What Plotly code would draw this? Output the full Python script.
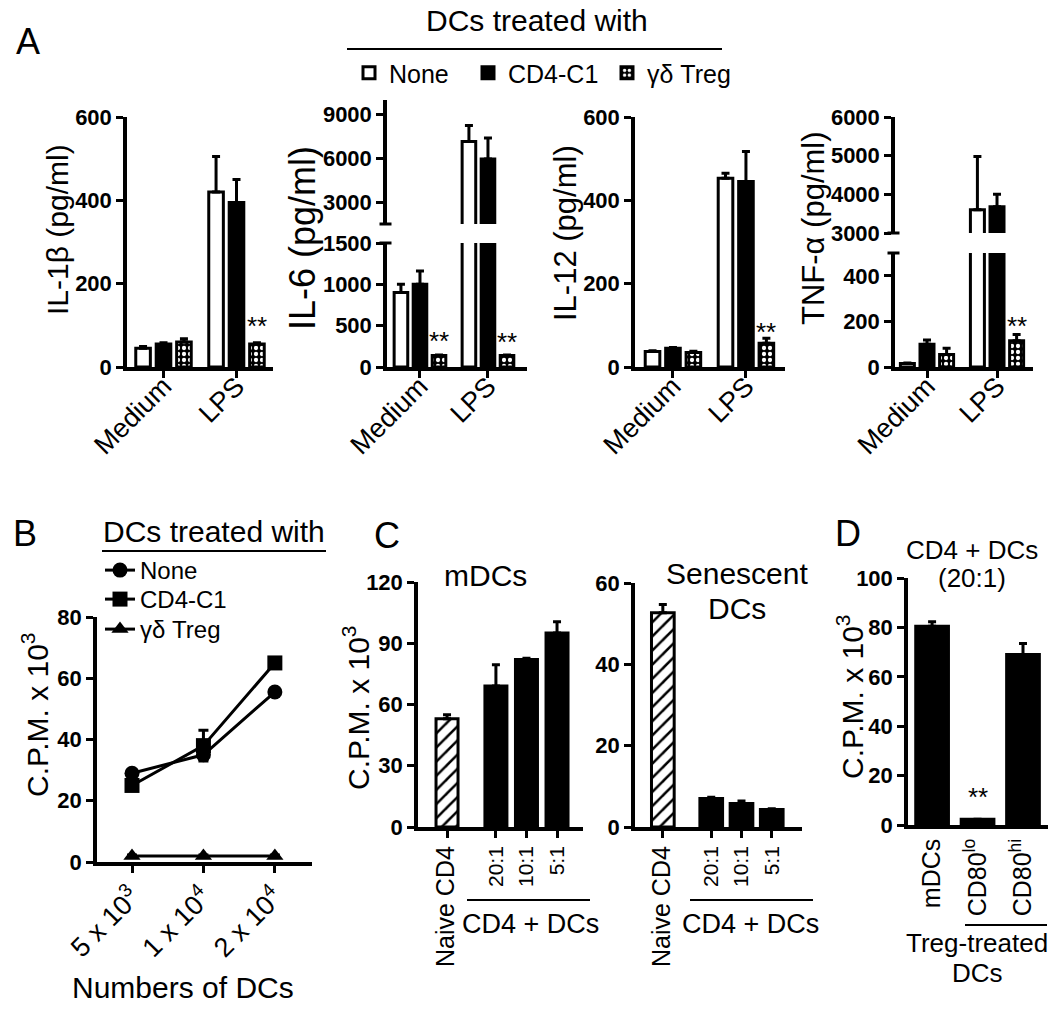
import plotly.graph_objects as go

# ---------------- data ----------------
cats_A = ['Medium', 'LPS']
treat_names = ['None', 'CD4-C1', 'γδ Treg']

il1b_none = [45, 420]
il1b_cd4 = [55, 395]
il1b_treg = [60, 55]
il1b_none_err = [4, 85]
il1b_cd4_err = [3, 55]
il1b_treg_err = [8, 3]

il6_none = [900, 7150]
il6_cd4 = [1000, 5950]
il6_treg = [140, 140]
il6_none_err = [100, 1100]
il6_cd4_err = [160, 1450]
il6_treg_err = [5, 5]

il12_none = [37, 453]
il12_cd4 = [45, 445]
il12_treg = [35, 57]
il12_none_err = [2, 12]
il12_cd4_err = [2, 72]
il12_treg_err = [3, 12]

tnf_none = [15, 3600]
tnf_cd4 = [100, 3680]
tnf_treg = [55, 115]
tnf_none_err = [3, 1380]
tnf_cd4_err = [18, 320]
tnf_treg_err = [27, 28]

b_x = ['5 x 10<sup>3</sup>', '1 x 10<sup>4</sup>', '2 x 10<sup>4</sup>']
b_none = [29, 35, 55.5]
b_cd4 = [25, 38, 65]
b_treg = [2, 2, 2]
b_none_err = [1, 1.5, 1]
b_cd4_err = [1, 5, 1]
b_treg_err = [0.3, 0.3, 0.3]

c_labels = ['Naive CD4', '20:1', '10:1', '5:1']
c_mdc = [53, 69, 82, 95]
c_mdc_err = [2, 10.5, 0.7, 5.5]
c_sen = [52.7, 7, 5.8, 4.3]
c_sen_err = [2, 0.3, 0.6, 0.2]

d_labels = ['mDCs', 'CD80<sup>lo</sup>', 'CD80<sup>hi</sup>']
d_vals = [80.5, 2.3, 69]
d_err = [1.8, 0, 4.5]

# ---------------- layout helpers ----------------
W, H = 1050, 1010
def fx(p): return p / W
def fy(p): return 1 - p / H

BLACK = 'black'
F = 'Liberation Sans, Arial, Helvetica, sans-serif'
FN = 'Liberation Sans Narrow, Arial Narrow, Liberation Sans, Arial, sans-serif'
tick_y_font = dict(family=FN, size=22, color=BLACK, weight='bold')

fig = go.Figure()

def axname(n, letter):
    return letter if n == 1 else f'{letter}{n}'

def add_axes(n, xdom, ydom, xr, yr, ytickvals, xopts=None, yopts=None):
    xa = dict(domain=[fx(xdom[0]), fx(xdom[1])], range=xr, anchor=axname(n, 'y'),
              showline=True, linewidth=3.5, linecolor=BLACK, ticks='outside', ticklen=7,
              tickwidth=3, tickcolor=BLACK, showgrid=False, zeroline=False, fixedrange=True,
              automargin=False)
    ya = dict(domain=[fy(ydom[1]), fy(ydom[0])], range=yr, anchor=axname(n, 'x'),
              showline=True, linewidth=3.5, linecolor=BLACK, ticks='outside', ticklen=7,
              tickwidth=3, tickcolor=BLACK, showgrid=False, zeroline=False,
              tickvals=ytickvals, tickfont=tick_y_font, fixedrange=True, automargin=False)
    if xopts:
        xa.update(xopts)
    if yopts:
        ya.update(yopts)
    key = '' if n == 1 else str(n)
    fig.update_layout(**{f'xaxis{key}': xa, f'yaxis{key}': ya})

xcatA = dict(type='category', categoryorder='array', categoryarray=cats_A, tickangle=-45,
             tickfont=dict(family=F, size=27, color=BLACK), ticklabelstandoff=-18)
hidden_x = dict(visible=False)

# Panel A axes
add_axes(1, (127, 273), (117, 367), [-0.5, 1.5], [0, 600], [0, 200, 400, 600], xcatA)
add_axes(2, (387, 527), (243, 367), [-0.485, 1.574], [0, 1500], [0, 500, 1000, 1500], xcatA)
add_axes(3, (387, 527), (100, 224), [-0.485, 1.574], [1500, 10000], [3000, 6000, 9000],
         dict(hidden_x, type='category', categoryorder='array', categoryarray=cats_A))
add_axes(4, (635, 785), (117, 367), [-0.52, 1.535], [0, 600], [0, 200, 400, 600], xcatA)
add_axes(5, (895, 1033), (253, 367), [-0.457, 1.514], [0, 500], [0, 200, 400], xcatA)
add_axes(6, (895, 1033), (117, 233), [-0.457, 1.514], [3000, 6000], [3000, 4000, 5000, 6000],
         dict(hidden_x, type='category', categoryorder='array', categoryarray=cats_A))

# Panel B axes
add_axes(7, (97, 312), (617, 862), [-0.49, 2.52], [0, 80], [0, 20, 40, 60, 80],
         dict(type='category', categoryorder='array', categoryarray=b_x, tickangle=-45,
              tickfont=dict(family=F, size=27, color=BLACK), ticklabelstandoff=-2))

# Panel C axes (numeric positions leave a gap after the naive CD4 bar)
c_pos = [0, 1.6, 2.6, 3.6]
c_ticktext = ['<span style="font-size:25px">' + c_labels[0] + '</span>'] + c_labels[1:]
xC = dict(tickvals=c_pos, ticktext=c_ticktext, tickangle=-90,
          tickfont=dict(family=F, size=21, color=BLACK))
add_axes(8, (418, 583), (582, 827), [-0.95, 4.45], [0, 120], [0, 30, 60, 90, 120], xC)
add_axes(9, (635, 802), (583, 827), [-0.92, 4.6], [0, 60], [0, 20, 40, 60], xC)

# Panel D axes
add_axes(10, (908, 1048), (578, 825), [-0.53, 2.55], [0, 100], [0, 20, 40, 60, 80, 100],
         dict(type='category', categoryorder='array', categoryarray=d_labels, tickangle=-90,
              ticks='', tickfont=dict(family=F, size=25, color=BLACK)))

# ---------------- traces ----------------
bar_styles = [
    dict(color='white', line=dict(color=BLACK, width=3)),
    dict(color=BLACK, line=dict(color=BLACK, width=3)),
    dict(color=BLACK, line=dict(color=BLACK, width=3),
         pattern=dict(shape='.', fgcolor='white', bgcolor=BLACK, size=6, solidity=0.4)),
]
offsets = [-0.38, -0.1, 0.18]
BW = 0.2
legA = ['legend', 'legend5', 'legend6']
legB = ['legend2', 'legend3', 'legend4']

def err(arr, w=4):
    return dict(type='data', array=arr, arrayminus=[0] * len(arr), symmetric=False,
                color=BLACK, thickness=3, width=w)

def add_A(n, series, errs, show_legend=False):
    for i, (vals, e) in enumerate(zip(series, errs)):
        fig.add_trace(go.Bar(x=cats_A, y=vals, name=treat_names[i],
                             xaxis=axname(n, 'x'), yaxis=axname(n, 'y'),
                             offset=offsets[i], width=BW, marker=bar_styles[i],
                             error_y=err(e), showlegend=show_legend, legend=legA[i],
                             hoverinfo='skip'))

add_A(1, [il1b_none, il1b_cd4, il1b_treg], [il1b_none_err, il1b_cd4_err, il1b_treg_err], True)
for n in (2, 3):
    add_A(n, [il6_none, il6_cd4, il6_treg], [il6_none_err, il6_cd4_err, il6_treg_err])
add_A(4, [il12_none, il12_cd4, il12_treg], [il12_none_err, il12_cd4_err, il12_treg_err])
for n in (5, 6):
    add_A(n, [tnf_none, tnf_cd4, tnf_treg], [tnf_none_err, tnf_cd4_err, tnf_treg_err])

# Panel B
for i, (vals, e, sym) in enumerate(zip([b_none, b_cd4, b_treg],
                                       [b_none_err, b_cd4_err, b_treg_err],
                                       ['circle', 'square', 'triangle-up'])):
    fig.add_trace(go.Scatter(x=b_x, y=vals, mode='lines+markers', name=treat_names[i],
                             line=dict(color=BLACK, width=3),
                             marker=dict(symbol=sym, size=15, color=BLACK),
                             error_y=dict(type='data', array=e, color=BLACK, thickness=3, width=5),
                             xaxis='x7', yaxis='y7', legend=legB[i], hoverinfo='skip'))

# Panel C
hatch = dict(color='white', line=dict(color=BLACK, width=3),
             pattern=dict(shape='/', fgcolor=BLACK, bgcolor='white', size=10, solidity=0.25))
solid = dict(color=BLACK, line=dict(color=BLACK, width=3))
for n, vals, e, w in ((8, c_mdc, c_mdc_err, 0.72), (9, c_sen, c_sen_err, 0.75)):
    fig.add_trace(go.Bar(x=c_pos[:1], y=vals[:1], width=w, marker=hatch, error_y=err(e[:1]),
                         xaxis=f'x{n}', yaxis=f'y{n}', showlegend=False, hoverinfo='skip'))
    fig.add_trace(go.Bar(x=c_pos[1:], y=vals[1:], width=w, marker=solid, error_y=err(e[1:]),
                         xaxis=f'x{n}', yaxis=f'y{n}', showlegend=False, hoverinfo='skip'))

# Panel D
fig.add_trace(go.Bar(x=d_labels, y=d_vals, width=0.72, marker=solid, error_y=err(d_err),
                     xaxis='x10', yaxis='y10', showlegend=False, hoverinfo='skip'))

# ---------------- annotations ----------------
ann = []
def text(t, x, y, size, angle=0, **kw):
    d = dict(text=t, x=fx(x), y=fy(y), xref='paper', yref='paper', showarrow=False,
             textangle=angle, font=dict(family=F, size=size, color=BLACK),
             xanchor='center', yanchor='middle')
    d.update(kw)
    ann.append(d)

text('A', 28, 41, 36)
text('DCs treated with', 537, 20, 30)
text('IL-1β (pg/ml)', 58, 230, 30, -90)
text('IL-6 (pg/ml)', 302, 238, 36, -90)
text('IL-12 (pg/ml)', 566, 233, 31, -90)
text('TNF-α (pg/ml)', 814, 228, 31, -90)
text('B', 25, 533, 36)
text('DCs treated with', 214, 531, 30)
text('C.P.M. x 10<sup>3</sup>', 35, 715, 30, -90)
text('Numbers of DCs', 183, 987, 30)
text('C', 387, 535, 36)
text('mDCs', 485, 575, 30)
text('Senescent', 737, 573, 30)
text('DCs', 737, 608, 30)
text('C.P.M. x 10<sup>3</sup>', 356, 708, 30, -90)
text('CD4 + DCs', 530, 924, 27)
text('CD4 + DCs', 750, 924, 27)
text('D', 848, 533, 36)
text('CD4 + DCs', 972, 550, 26)
text('(20:1)', 972, 578, 26)
text('C.P.M. x 10<sup>3</sup>', 850, 697, 30, -90)
text('Treg-treated', 977, 943, 26)
text('DCs', 977, 973, 26)

def stars(xaxis, xval, ypx):
    ann.append(dict(text='**', x=xval, y=fy(ypx), xref=xaxis, yref='paper', showarrow=False,
                    font=dict(family=F, size=26, color=BLACK), xanchor='center', yanchor='middle'))

stars('x', 1.28, 326)
stars('x2', 0.28, 341)
stars('x2', 1.28, 342)
stars('x4', 1.28, 332)
stars('x5', 1.28, 326)
stars('x10', 1, 797)

# ---------------- shapes ----------------
shapes = []
def hline(x0, x1, y, w=2):
    shapes.append(dict(type='line', xref='paper', yref='paper', x0=fx(x0), x1=fx(x1),
                       y0=fy(y), y1=fy(y), line=dict(color=BLACK, width=w)))

hline(347, 722, 49)
hline(102, 326, 551)
hline(467, 590, 900)
hline(690, 813, 900)
hline(965, 1047, 925)
# broken-axis caps
for xa, ys in ((385.5, (224, 243)), (893.5, (233, 253))):
    for yy in ys:
        hline(xa - 6, xa + 6, yy, 3)

def leg(xpx, ypx, size):
    return dict(orientation='v', x=fx(xpx), y=fy(ypx), xanchor='left', yanchor='top',
                font=dict(family=F, size=size, color=BLACK), bgcolor='rgba(0,0,0,0)',
                itemwidth=30)

fig.update_layout(
    template='none',
    width=W, height=H, margin=dict(l=0, r=0, t=0, b=0, autoexpand=False),
    paper_bgcolor='white', plot_bgcolor='white', barmode='overlay',
    font=dict(family=F, color=BLACK),
    annotations=ann, shapes=shapes,
    legend=leg(349, 50, 25), legend5=leg(468, 50, 25), legend6=leg(607, 50, 25),
    legend2=leg(100, 548, 24), legend3=leg(100, 577, 24), legend4=leg(100, 607, 24),
)

fig.write_html('out.html', config={'displayModeBar': False},
               post_script="document.body.style.margin='0';document.body.style.padding='0';"
                           "document.body.style.overflow='hidden';")
